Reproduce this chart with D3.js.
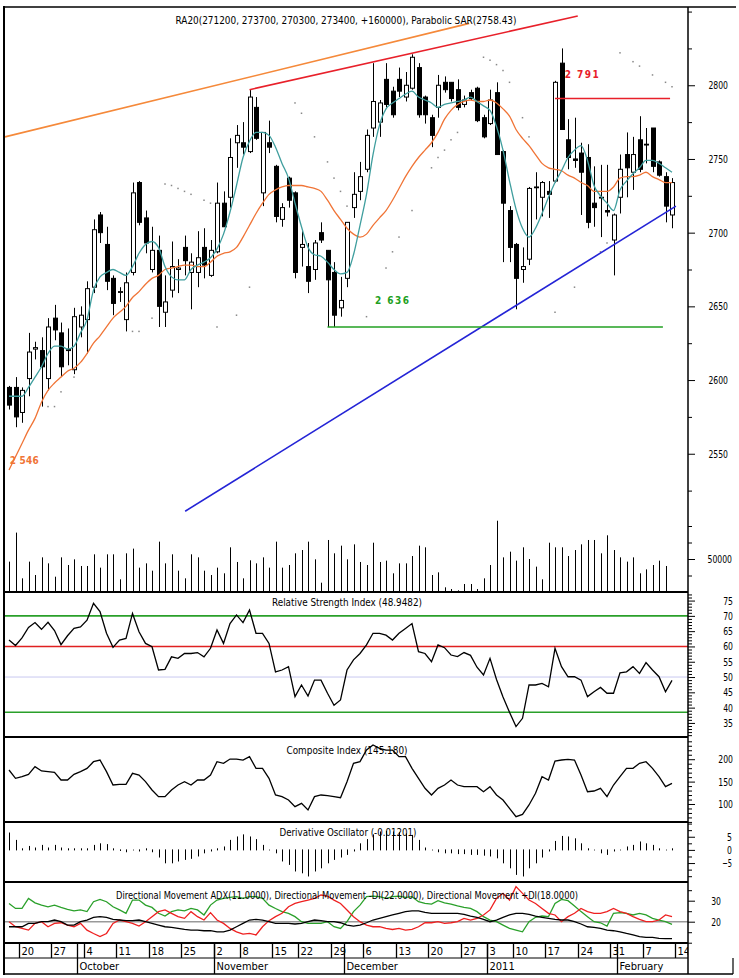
<!DOCTYPE html>
<html><head><meta charset="utf-8">
<script src="https://cdn.jsdelivr.net/npm/d3@7"></script>
<style>
html,body{margin:0;padding:0;background:#fff;}
svg{display:block;}
text{font-family:"Liberation Sans Narrow","Arial Narrow","DejaVu Sans Condensed",sans-serif;}
</style></head><body>
<svg id="c" width="739" height="978"></svg>
<script>
// ---------------- DATA ----------------
const startDate = "2010-09-16", endDate = "2011-02-14";
const holidays = ["2010-11-01","2010-11-19","2010-12-31","2011-01-07"];
const weekLabels = ["20","27","4","11","18","25","2","8","15","22","29","6","13","20","27","3","10","17","24","31","7","14"];
const monthLabels = ["October","November","December","2011","February"];

const openP = [2595,2595,2578,2601,2621,2620,2601,2642,2632,2621,2607,2636,2641,2663,2712,2692,2669,2660,2641,2673,2734,2710,2675,2688,2646,2661,2675,2690,2673,2673,2690,2671,2687,2720,2724,2761,2761,2755,2785,2727,2761,2745,2709,2737,2727,2690,2677,2675,2700,2688,2673,2649,2669,2717,2728,2743,2771,2775,2804,2796,2804,2792,2798,2812,2792,2778,2785,2802,2802,2797,2787,2795,2798,2778,2774,2795,2755,2715,2692,2675,2682,2731,2724,2728,2735,2815,2763,2750,2754,2751,2720,2724,2715,2695,2724,2753,2741,2763,2760,2771,2748,2738,2712];
const highP = [2596,2602,2595,2632,2626,2629,2642,2651,2639,2635,2649,2650,2667,2709,2714,2704,2671,2663,2673,2734,2735,2715,2704,2698,2671,2694,2682,2698,2686,2701,2703,2695,2734,2728,2764,2773,2775,2797,2792,2768,2776,2746,2720,2738,2728,2701,2693,2695,2707,2688,2680,2670,2707,2741,2748,2770,2815,2790,2815,2799,2812,2809,2821,2815,2793,2780,2807,2806,2802,2804,2793,2797,2799,2780,2797,2802,2756,2718,2693,2690,2731,2741,2735,2735,2803,2825,2777,2778,2761,2760,2745,2746,2746,2713,2753,2768,2765,2779,2771,2771,2749,2741,2737];
const lowP = [2580,2568,2571,2589,2614,2582,2593,2627,2602,2610,2604,2629,2618,2659,2693,2661,2644,2653,2633,2671,2705,2686,2673,2636,2636,2656,2659,2671,2648,2663,2669,2670,2686,2704,2717,2744,2753,2754,2763,2718,2754,2707,2704,2717,2669,2677,2659,2668,2693,2636,2636,2643,2663,2710,2722,2741,2765,2765,2785,2778,2792,2789,2797,2778,2774,2758,2778,2795,2789,2783,2785,2790,2775,2764,2773,2753,2680,2680,2648,2666,2678,2709,2711,2710,2734,2770,2743,2744,2712,2703,2704,2697,2711,2671,2713,2724,2729,2741,2747,2741,2738,2707,2703];
const closeP = [2583,2575,2593,2619,2622,2609,2636,2634,2609,2620,2643,2644,2662,2702,2700,2667,2652,2660,2666,2727,2707,2693,2688,2650,2653,2677,2676,2681,2680,2683,2678,2688,2720,2704,2751,2766,2758,2792,2764,2768,2758,2711,2717,2722,2673,2692,2667,2693,2695,2668,2644,2654,2707,2726,2738,2766,2789,2788,2787,2780,2796,2800,2819,2780,2780,2766,2800,2797,2791,2785,2790,2791,2776,2765,2790,2753,2720,2690,2669,2677,2730,2731,2734,2726,2802,2770,2751,2749,2741,2707,2717,2724,2714,2712,2743,2744,2753,2743,2760,2745,2739,2718,2734];
const volume = [46000,90000,20700,46000,25750,52500,43400,23200,52500,40900,49500,39400,39400,57100,36900,57100,57100,19200,58600,65700,36900,43400,32300,76300,43400,57100,32300,20700,57100,52500,32300,25750,36900,28300,67700,45500,20700,48000,43400,52500,36900,76300,36900,40900,58600,63600,76300,49500,14100,78800,58600,70200,49500,72200,45500,40900,74700,45500,47500,28300,43400,43400,54500,70200,67700,25750,29800,7100,4500,2500,12100,0,12100,4500,20700,40900,108000,52500,61100,47500,67700,50000,38400,19200,74700,67700,67700,54500,63600,72200,78800,78800,58600,85900,63600,52500,46000,52500,28300,34300,40900,47500,39400];
const maFast = [2589,2589,2589,2595,2602,2609,2618,2623,2623,2621,2623,2632,2641,2661,2670,2673,2675,2673,2671,2677,2686,2692,2694,2690,2677,2670,2668,2668,2675,2678,2680,2683,2689,2699,2714,2732,2751,2762,2768,2768,2766,2758,2747,2737,2720,2704,2690,2685,2684,2680,2675,2672,2673,2685,2705,2726,2753,2773,2784,2788,2791,2794,2796,2792,2790,2788,2785,2787,2788,2789,2790,2792,2789,2786,2783,2772,2756,2735,2716,2703,2697,2703,2713,2724,2734,2742,2751,2756,2759,2749,2732,2725,2720,2715,2729,2735,2740,2744,2749,2749,2747,2744,2741];
const maSlow = [2539,2548,2557,2566,2574,2585,2593,2598,2602,2606,2608,2612,2618,2625,2630,2636,2642,2646,2650,2656,2660,2665,2669,2671,2675,2676,2677,2678,2678,2677,2677,2680,2684,2686,2687,2690,2697,2705,2713,2720,2726,2729,2731,2732,2732,2732,2731,2730,2728,2722,2715,2709,2703,2699,2697,2699,2705,2710,2715,2722,2730,2738,2745,2751,2756,2761,2768,2777,2783,2787,2789,2790,2789,2789,2790,2788,2784,2779,2770,2764,2759,2753,2747,2744,2743,2742,2739,2737,2734,2732,2728,2728,2728,2731,2737,2738,2738,2739,2741,2738,2736,2734,2734];
const sarIdx = [6,7,8,10,19,20,22,24,25,26,27,28,30,31,32,35,37,44,45,47,49,50,51,52,55,58,59,60,62,65,66,67,68,69,73,74,75,76,77,79,80,84,87,91,92,94,96,97,99,101,102];
const sarVal = [2582,2582,2592,2602,2633,2633,2642,2733,2732,2730,2728,2726,2722,2720,2636,2644,2663,2788,2781,2765,2748,2737,2728,2718,2643,2676,2687,2697,2715,2744,2751,2756,2763,2768,2819,2817,2814,2810,2802,2778,2765,2646,2663,2687,2693,2822,2816,2813,2807,2802,2799];
const trendFrom = [[-0.62,2765],[37,2797],[27.1,2511]];
const trendTo = [[70.8,2842],[87.5,2847],[102.6,2718]];
const levelValue = [2636,2791];
const levelFrom = [49,84];
const levelTo = [100.6,101.7];
const noteText = ["2 636","2 791","2 546"];
const noteIdx = [56.3,85.5,0.1];
const noteVal = [2651.6,2805,2543];

const rsi = [62.1,60.3,62.8,66.2,67.8,65.6,67.9,65.2,60.6,63.5,65.9,66.4,68.6,74.1,71.4,64.3,59.7,62.1,62.6,70.8,64.8,61,59.9,52.3,52.5,56.6,56.1,57.7,57.7,58,56.6,59.4,65.4,61,67.5,70.3,67.8,71.9,64.3,64.3,61,51.7,52.3,53.4,43.6,47.4,43.8,49,49,44.7,40.8,42.5,52.3,55.6,57.7,60.5,64.3,64.3,63.7,62.1,64.3,65.9,67.5,58.3,57.7,55,60.5,59.6,57.2,56.7,58,57.1,53.2,50.7,56.1,49.2,43.5,38.5,33.8,36.5,47.4,47.4,47.9,46.8,59.4,53.4,50.1,50.1,49,43.6,45.2,46.6,44.7,44.7,51.4,51.7,53.4,51.2,54.7,52.3,50.1,45.2,48.9];
const rsiLevels = [70,60,50,38.5];
const composite = [175.9,157.3,161,166.2,183.3,173.7,172.2,170.7,153.6,153.6,166.2,172.2,179.6,194.5,198.2,172.2,142.4,143.9,143.9,168.5,164.7,149.9,131.3,116.4,116.4,131.3,142.4,149.9,142.4,153.6,153.6,164.7,194.5,190.8,200.4,200.4,198.2,205.7,179.6,179.6,157.3,120.1,116.4,108.9,94,101.5,86.6,116.4,120.1,118.6,116.4,114.1,149.9,190.8,194.5,220.5,231.7,224.3,220.5,220.5,205.7,205.7,179.6,157.3,135,120.1,135,142.4,153.6,142.4,138.7,138.7,138.7,127.5,138.7,120.1,108.9,90.3,71.7,76.9,97.8,123.8,161,153.6,196,198.2,199.7,198.2,164.7,127.5,129,135,116.4,142.4,161,179.6,179.6,190.8,194.5,179.6,161,138.7,146.1];
const deriv = [6.6,3.8,0.6,1.5,0.9,1.9,0.9,1.9,0.9,0.6,0.6,0.6,0.6,1.9,2.5,2.2,0.6,-0.4,-0.9,0.1,-0.6,0.6,-0.9,-2.9,-5.1,-5.1,-4.4,-3.8,-3.4,-2.5,-1.3,-0.6,0.6,1.3,3.8,5.1,5.9,5.1,4.1,1.9,0.1,-1.3,-4.4,-5.7,-8.2,-8.9,-10.1,-8.2,-7,-5.1,-3.8,-2.9,-1.9,-0.6,2.5,4.1,5.9,7,7.2,7,6.7,6.3,5.7,3.8,0.9,0.1,-0.9,-1.3,-1.3,-1.6,-1.6,-1.9,-1.9,-2.2,-2.5,-3.2,-5.1,-7,-9.5,-10.1,-7,-5.1,-2.9,-0.6,3.4,5.3,5.1,4.4,2.5,0.6,0.1,-1.3,-1.9,-0.6,0.1,1.3,1.9,3.2,2.5,1.9,0.6,0.1,0.6];
const diPlus = [28.7,26.3,26.3,31.1,29,27.9,27.1,27.9,26.8,25.9,25.2,25.6,24.8,29.5,30.6,29.5,27.1,25.6,24,30.3,30.3,27.9,26.8,24,22.7,24.8,25.6,25.2,26.3,25.6,23.2,27.9,30.3,31.1,31.6,31.9,31.1,31.9,31.9,31.1,27.9,26.3,24.8,24,22.4,20,19.2,19.2,19.2,20,17.6,16.8,20,24.8,27.9,31.9,32.2,31.9,31.1,31.9,32.2,31.6,31.9,29.5,28.7,28.4,30,29,28.4,27.5,26.8,26.3,24.8,22.4,20.8,20,18.4,16.8,16,15.2,20,22.1,22.7,22.4,28.7,30.6,30,27.5,24.8,22.4,20,19.5,17.9,24,24.3,24,23.2,24,23.2,21.6,20.8,20,18.7];
const diMinus = [20,17.6,16.8,16,19.2,20,17.6,19.2,19.5,18.4,17.6,19.2,16,14.4,12.9,14.4,19.2,20.8,20,19.2,17.9,20,22.4,24.8,25.6,24,22.4,21.6,24.8,22.4,20.8,24.3,20.8,19.2,16.8,15.2,14.1,14.4,13.7,17.6,20.5,22.4,24,27.1,28.7,29.5,30.3,31.1,32.7,32.2,30.3,28.7,25.6,22.4,20,18.4,17.6,17.6,16.8,16.3,16.8,16,16.3,17.6,19.5,19.5,20,19.2,19.5,20,21.6,20.8,21.6,23.2,25.6,31.1,33.5,30.3,36.7,33.5,30.3,28.7,26.3,24,23.2,20,22.4,24,26.3,24.8,24,24,24.8,26.3,24.8,24,22.4,21.1,20,20,20.8,23.2,22.4];
const adx = [17.6,17.6,17.6,19.2,19.2,20,20,20.8,20,18.4,18.4,20,20.8,22.1,22.4,22.1,21.1,20.8,20.5,20.5,20.8,20,19.2,18.4,17.6,17.3,16.8,16.3,16,16,15.7,15.7,15.2,15.2,16,17.6,19.2,20.8,21.1,20.8,20,19.2,19.2,19.2,18.9,19.2,20,20.8,20.5,20,20,19.5,18.4,17.9,18.4,19.5,20.8,21.6,22.4,23.2,24,24.8,25.2,25.2,24.4,24,24,24,24,24,23.5,22.7,22.1,21.1,20,20.8,22.1,23.2,24,24,23.5,22.7,22.1,21.6,21.1,20.8,20.8,20,18.9,17.6,17.3,16.8,16,15.7,15.2,14.4,13.7,12.9,12.5,12.5,12.1,11.9,11.9];
const dmiLevel = [20];

const titles = {
  main: "RA20(271200, 273700, 270300, 273400, +160000), Parabolic SAR(2758.43)",
  rsi: "Relative Strength Index (48.9482)",
  comp: "Composite Index (145.180)",
  deriv: "Derivative Oscillator (-0.01201)",
  dmi: "Directional Movement ADX(11.0000), Directional Movement -DI(22.0000), Directional Movement +DI(18.0000)"
};

// ---------------- LAYOUT ----------------
const svg = d3.select("#c");
const L = 4, R = 688;
const FONT = '"Liberation Sans Narrow","Arial Narrow","DejaVu Sans Condensed",sans-serif';
const x = d3.scaleLinear().domain([-0.77, 104.46]).range([L, R]);
const px = i => Math.round(x(i)) + 0.5;

const yP = d3.scaleLinear().domain([2456.2, 2853.1]).range([592, 7]);
const yV = d3.scaleLinear().domain([0, 50000]).range([592, 559]);
const yR = d3.scaleLinear().domain([30.4, 77.8]).range([737, 592]);
const yC = d3.scaleLinear().domain([59.8, 249.6]).range([822, 737]);
const yD = d3.scaleLinear().domain([-12.2, 10.6]).range([882, 822]);
const yM = d3.scaleLinear().domain([9.86, 38.9]).range([943, 882]);

const defs = svg.append("defs");
function clip(id, top, bottom, right) {
  defs.append("clipPath").attr("id", id).append("rect")
    .attr("x", L).attr("y", top).attr("width", (right || R) - L).attr("height", bottom - top);
  return `url(#${id})`;
}

// ---------- MAIN PANEL ----------
const gMain = svg.append("g").attr("clip-path", clip("cm", 7, 592));

// volume
gMain.append("g").selectAll("line").data(volume).join("line")
  .filter(d => d > 0)
  .attr("x1", (d, i) => px(i)).attr("x2", (d, i) => px(i))
  .attr("y1", yV(0)).attr("y2", d => yV(d))
  .attr("stroke", "#000").attr("stroke-width", 1);

// parabolic SAR
gMain.append("g").selectAll("rect").data(sarIdx).join("rect")
  .attr("x", (d) => x(d) - 0.75).attr("y", (d, k) => yP(sarVal[k]) - 0.75)
  .attr("width", 1.5).attr("height", 1.5).attr("fill", "#888");

// candles
const gC = gMain.append("g");
closeP.forEach((c, i) => {
  const o = openP[i], cx = px(i);
  gC.append("line").attr("x1", cx).attr("x2", cx)
    .attr("y1", yP(highP[i])).attr("y2", yP(lowP[i]))
    .attr("stroke", "#000").attr("stroke-width", 1);
  const top = yP(Math.max(o, c)), bot = yP(Math.min(o, c));
  gC.append("rect").attr("x", cx - 2).attr("width", 4)
    .attr("y", top).attr("height", Math.max(0.8, bot - top))
    .attr("fill", c < o ? "#000" : "#fff").attr("stroke", "#000").attr("stroke-width", 1);
});

// moving averages
const lineP = d3.line().x((d, i) => x(i)).y(d => yP(d)).curve(d3.curveMonotoneX);
gMain.append("path").attr("d", lineP(maSlow)).attr("fill", "none").attr("stroke", "#f07436").attr("stroke-width", 1.3);
gMain.append("path").attr("d", lineP(maFast)).attr("fill", "none").attr("stroke", "#3f9e9e").attr("stroke-width", 1.3);

// trend lines
const trendColors = ["#f5893a", "#e8202a", "#2424d6"];
trendFrom.forEach((f, k) => {
  gMain.append("line")
    .attr("x1", x(f[0])).attr("y1", yP(f[1]))
    .attr("x2", x(trendTo[k][0])).attr("y2", yP(trendTo[k][1]))
    .attr("stroke", trendColors[k]).attr("stroke-width", 1.6);
});
// horizontal levels
const levelColors = ["#22a022", "#e8202a"];
levelValue.forEach((v, k) => {
  gMain.append("line").attr("x1", x(levelFrom[k])).attr("x2", x(levelTo[k]))
    .attr("y1", yP(v)).attr("y2", yP(v))
    .attr("stroke", levelColors[k]).attr("stroke-width", 1.6);
});
// notes
const noteColors = ["#22a022", "#e8202a", "#f07436"];
noteText.forEach((t, k) => {
  gMain.append("text").attr("x", x(noteIdx[k])).attr("y", yP(noteVal[k]))
    .attr("fill", noteColors[k]).attr("font-size", 10).attr("font-weight", "bold")
    .attr("font-family", '"Liberation Sans",Arial,sans-serif')
    .attr("textLength", k === 2 ? 29 : 34).attr("lengthAdjust", "spacing").text(t);
});

// ---------- RSI ----------
const gR = svg.append("g").attr("clip-path", clip("cr", 592, 737));
const rsiColors = ["#2aa02a", "#e02020", "#c8c8f0", "#2aa02a"];
rsiLevels.forEach((v, k) => {
  gR.append("line").attr("x1", L).attr("x2", R).attr("y1", yR(v)).attr("y2", yR(v))
    .attr("stroke", rsiColors[k]).attr("stroke-width", k === 2 ? 1 : 1.6);
});
gR.append("path").attr("d", d3.line().x((d, i) => x(i)).y(d => yR(d))(rsi))
  .attr("fill", "none").attr("stroke", "#000").attr("stroke-width", 1.3);

// ---------- COMPOSITE ----------
const gCo = svg.append("g").attr("clip-path", clip("cc", 737, 822));
gCo.append("path").attr("d", d3.line().x((d, i) => x(i)).y(d => yC(d))(composite))
  .attr("fill", "none").attr("stroke", "#000").attr("stroke-width", 1.3);

// ---------- DERIVATIVE ----------
const gD = svg.append("g").attr("clip-path", clip("cd", 822, 882));
gD.selectAll("line").data(deriv).join("line")
  .attr("x1", (d, i) => px(i)).attr("x2", (d, i) => px(i))
  .attr("y1", d => yD(0) + (d >= 0 ? 0.5 : -0.5)).attr("y2", d => yD(d))
  .attr("stroke", "#000").attr("stroke-width", 1);

// ---------- DMI ----------
const gM = svg.append("g").attr("clip-path", clip("cdm", 882, 943));
dmiLevel.forEach(v => gM.append("line").attr("x1", L).attr("x2", R).attr("y1", yM(v)).attr("y2", yM(v))
  .attr("stroke", "#999").attr("stroke-width", 1.5));
const lineM = d3.line().x((d, i) => x(i)).y(d => yM(d));
[[diPlus, "#2aa02a"], [diMinus, "#ee2020"], [adx, "#000"]].forEach(([s, col]) => {
  gM.append("path").attr("d", lineM(s)).attr("fill", "none").attr("stroke", col).attr("stroke-width", 1.3);
});

// ---------- TITLES ----------
function title(t, cx, y, w) {
  svg.append("text").attr("x", cx - w / 2).attr("y", y).attr("font-size", 11)
    .attr("font-family", FONT).attr("fill", "#000")
    .attr("textLength", w).attr("lengthAdjust", "spacingAndGlyphs").text(t);
}
title(titles.main, 346, 24, 341);
title(titles.rsi, 347, 606, 150);
title(titles.comp, 347, 754, 121);
title(titles.deriv, 348, 836, 137);
title(titles.dmi, 347, 899, 462);

// ---------- FRAME ----------
const frame = svg.append("g").attr("stroke", "#000");
frame.append("line").attr("x1", L - 1).attr("x2", 736).attr("y1", 7).attr("y2", 7).attr("stroke-width", 1.5);
frame.append("line").attr("x1", L).attr("x2", L).attr("y1", 6).attr("y2", 975).attr("stroke-width", 2);
frame.append("line").attr("x1", R).attr("x2", R).attr("y1", 7).attr("y2", 974).attr("stroke-width", 1.5);
[592, 737, 822, 882, 943].forEach(yy => frame.append("line")
  .attr("x1", L).attr("x2", R).attr("y1", yy).attr("y2", yy).attr("stroke-width", 2));
frame.append("line").attr("x1", L).attr("x2", R).attr("y1", 958).attr("y2", 958).attr("stroke-width", 1.2);
frame.append("line").attr("x1", L).attr("x2", 733).attr("y1", 974).attr("y2", 974).attr("stroke-width", 1.5);
frame.append("line").attr("x1", 733).attr("x2", 733).attr("y1", 958).attr("y2", 974).attr("stroke-width", 1.2);

// ---------- RIGHT AXES ----------
function rightAxis(scale, majors, minors, labelRight, fmt) {
  const g1 = svg.append("g").attr("transform", `translate(${R},0)`);
  g1.call(d3.axisRight(scale).tickValues(minors).tickSize(4).tickFormat(""))
    .call(a => a.select(".domain").remove());
  const g2 = svg.append("g").attr("transform", `translate(${R},0)`);
  g2.call(d3.axisRight(scale).tickValues(majors).tickSize(7).tickFormat(fmt || d3.format("d")))
    .call(a => a.select(".domain").remove());
  g2.attr("font-family", FONT).attr("font-size", 11);
  g2.selectAll("text").attr("x", labelRight - R).attr("text-anchor", "end")
    .each(function () {
      const n = this.textContent.length;
      d3.select(this).attr("textLength", n * 4.9).attr("lengthAdjust", "spacingAndGlyphs");
    });
}
rightAxis(yP, d3.range(2550, 2801, 50), d3.range(2525, 2851, 25).filter(v => v % 50 !== 0).concat([2850]), 728);
rightAxis(yV, [50000], [25000, 75000, 100000], 732);
rightAxis(yR, d3.range(35, 76, 5), d3.range(31, 78, 1).filter(v => v % 5 !== 0), 733);
rightAxis(yC, [100, 150, 200], d3.range(60, 250, 10).filter(v => v % 50 !== 0), 733);
rightAxis(yD, [-5, 0, 5], [-10, -7.5, -2.5, 2.5, 7.5, 10], 732);
rightAxis(yM, [20, 30], [10, 15, 25, 35], 721);

// ---------- DATE AXIS ----------
const pd = d3.timeParse("%Y-%m-%d"), fd = d3.timeFormat("%Y-%m-%d");
const days = d3.timeDay.range(pd(startDate), d3.timeDay.offset(pd(endDate), 1))
  .filter(d => d.getDay() !== 0 && d.getDay() !== 6 && !holidays.includes(fd(d)));
const weekIdx = [], monthIdx = [];
days.forEach((d, i) => {
  if (i === 0) return;
  if (+d3.timeMonday.floor(d) !== +d3.timeMonday.floor(days[i - 1])) weekIdx.push(i);
  if (d.getMonth() !== days[i - 1].getMonth()) monthIdx.push(i);
});
const gDate = svg.append("g").attr("clip-path", clip("cx", 943, 975, R));
weekIdx.forEach((i, k) => {
  const xx = Math.round(x(i - 0.5)) + 0.5;
  gDate.append("line").attr("x1", xx).attr("x2", xx).attr("y1", 943).attr("y2", 958)
    .attr("stroke", "#000").attr("stroke-width", 1.3);
  gDate.append("text").attr("x", xx + 2).attr("y", 955).attr("font-size", 11)
    .attr("font-family", FONT).text(weekLabels[k]);
});
const gMon = svg.append("g");
monthIdx.forEach((i, k) => {
  const xx = Math.round(x(i - 0.5)) + 0.5;
  gMon.append("line").attr("x1", xx).attr("x2", xx).attr("y1", 943).attr("y2", 974)
    .attr("stroke", "#000").attr("stroke-width", 1.3);
  gMon.append("text").attr("x", xx + 2).attr("y", 970).attr("font-size", 11)
    .attr("font-family", FONT).text(monthLabels[k]);
});
</script></body></html>
